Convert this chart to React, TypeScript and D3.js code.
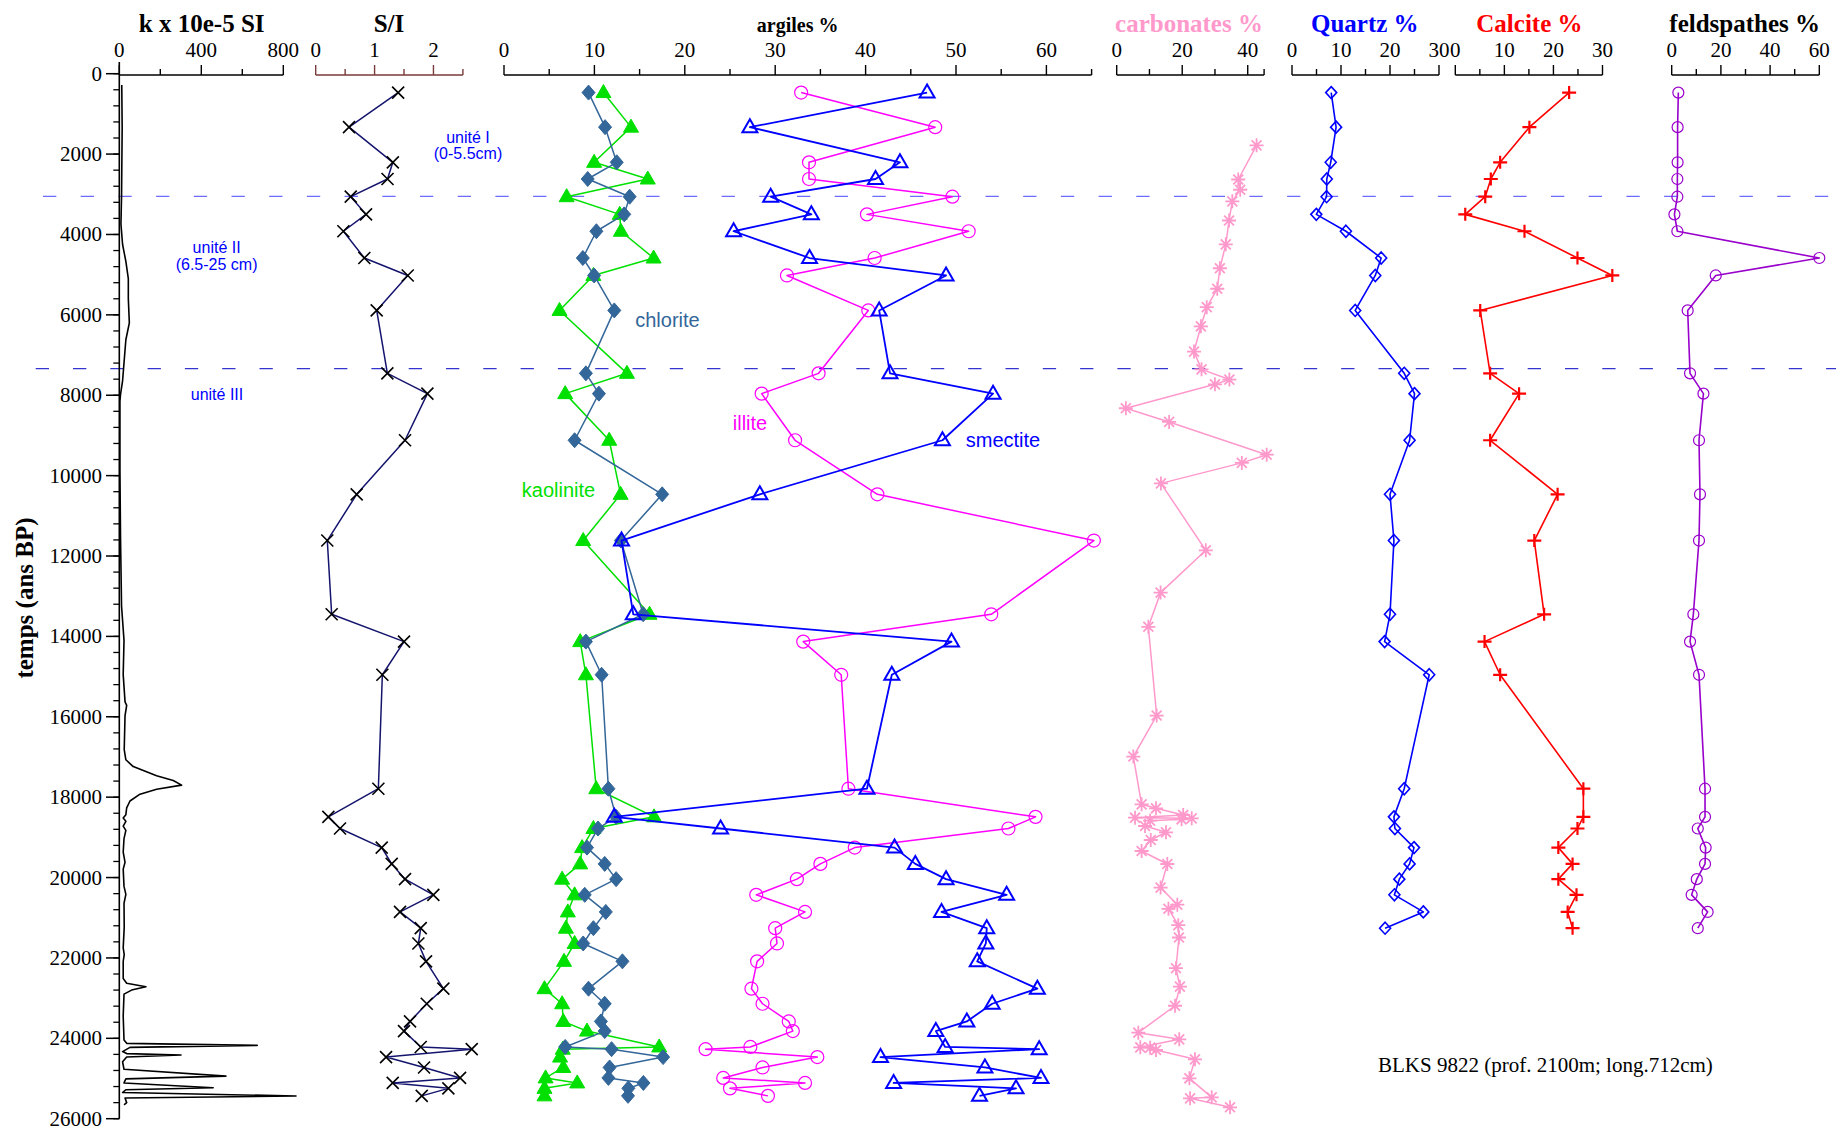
import React from 'react';
import * as d3 from 'd3';

// ---------- DATA ----------
// sample ages (ans BP) shared by clay minerals, S/I, quartz, calcite, feldspaths
const sampleTime = [470, 1330, 2205, 2620, 3060, 3500, 3920, 4586, 5020, 5890, 7455, 7960, 9120, 10465, 11615, 13450, 14130, 14955, 17790, 18490, 18780, 19255, 19660, 20040, 20430, 20855, 21260, 21640, 22085, 22765, 23140, 23580, 23820, 24215, 24270, 24467, 24725, 24985, 25110, 25245, 25432];

const chlorite = [9.35, 11.18, 12.47, 9.26, 13.9, 13.3, 10.22, 8.72, 9.97, 12.2, 9.06, 10.5, 7.81, 17.5, 12.93, 15.4, 9.06, 10.8, 11.55, 12.4, 10.4, 9.18, 11.14, 12.4, 8.93, 11.26, 9.89, 8.76, 13.1, 9.35, 11.14, 10.72, 11.14, 6.77, 11.9, 17.6, 11.68, 11.55, 15.42, 13.76, 13.72];
const kaolinite = [11.0, 14.05, 9.97, 15.9, 6.93, 12.8, 12.93, 16.55, 9.89, 6.14, 13.6, 6.77, 11.64, 12.9, 8.76, 16.1, 8.43, 9.06, 10.2, 16.6, 9.89, 8.64, 8.43, 6.43, 7.81, 7.06, 6.85, 7.81, 6.64, 4.48, 6.43, 6.56, 9.18, 17.17, 6.5, 6.2, 6.56, 4.6, 8.1, 4.48, 4.48];
const illite = [32.87, 47.7, 33.74, 33.74, 49.6, 40.15, 51.4, 41.0, 31.3, 40.3, 34.8, 28.5, 32.2, 41.3, 65.25, 53.9, 33.1, 37.3, 38.1, 58.8, 55.8, 38.8, 35.0, 32.4, 27.9, 33.3, 30.0, 30.2, 28.0, 27.37, 28.6, 31.5, 31.95, 27.25, 22.3, 34.66, 28.6, 24.25, 33.3, 25.0, 29.2];
const smectite = [46.8, 27.2, 43.8, 41.1, 29.5, 34.0, 25.4, 33.8, 48.9, 41.5, 42.7, 54.1, 48.5, 28.3, 13.0, 14.3, 49.5, 42.9, 40.15, 12.2, 23.96, 43.2, 45.5, 48.9, 55.6, 48.4, 53.4, 53.3, 52.35, 59.0, 54.0, 51.2, 47.77, 48.8, 59.2, 41.65, 53.2, 59.4, 43.1, 56.64, 52.6];
const smectiteIllite = [1.40, 0.566, 1.31, 1.22, 0.595, 0.855, 0.47, 0.826, 1.563, 1.036, 1.217, 1.897, 1.517, 0.696, 0.197, 0.271, 1.50, 1.132, 1.064, 0.215, 0.413, 1.121, 1.291, 1.517, 1.998, 1.432, 1.784, 1.744, 1.874, 2.168, 1.886, 1.602, 1.50, 1.784, 2.65, 1.195, 1.84, 2.452, 1.308, 2.253, 1.801];

// first 27 samples only
const quartz = [8.0, 9.0, 7.9, 7.1, 7.06, 4.96, 11.0, 18.2, 17.0, 12.9, 22.9, 25.0, 24.0, 20.0, 20.8, 20.0, 18.9, 28.0, 22.9, 20.8, 21.0, 24.9, 24.0, 21.9, 20.9, 26.8, 19.0];
const calcite = [23.2, 15.1, 9.14, 7.24, 6.1, 2.03, 14.1, 24.9, 32.0, 5.08, 7.1, 13.0, 7.1, 20.85, 16.1, 18.1, 5.96, 9.14, 26.1, 26.1, 24.9, 21.0, 23.9, 21.0, 24.7, 22.9, 23.9];
const feldspaths = [2.7, 2.4, 2.4, 2.3, 2.3, 1.1, 2.3, 60.0, 17.9, 6.5, 7.45, 12.9, 11.1, 11.5, 11.1, 8.8, 7.45, 11.1, 13.55, 13.55, 10.6, 13.8, 13.55, 10.2, 8.1, 14.6, 10.6];

const carbTime = [1783, 2632, 2887, 3176, 3652, 4246, 4841, 5351, 5809, 6285, 6914, 7356, 7610, 7729, 8324, 8664, 9479, 9683, 10193, 11858, 12911, 13761, 15969, 16989, 18178, 18277, 18444, 18511, 18527, 18551, 18585, 18717, 18874, 19066, 19339, 19663, 20250, 20676, 20777, 21186, 21492, 22256, 22714, 23190, 23860, 24025, 24224, 24233, 24291, 24523, 24995, 25468, 25493, 25716];
const carbonates = [42.7, 37.1, 37.7, 35.3, 34.3, 33.3, 31.5, 30.7, 27.5, 25.7, 23.6, 25.9, 34.4, 30.0, 2.8, 16.0, 45.8, 38.2, 13.5, 27.2, 13.4, 9.66, 12.2, 5.08, 7.6, 12.0, 20.3, 5.6, 22.9, 19.8, 10.2, 8.65, 15.05, 10.4, 7.6, 15.45, 13.4, 18.5, 15.8, 18.8, 19.0, 18.1, 19.3, 17.8, 6.6, 19.1, 7.2, 10.2, 12.0, 23.9, 22.2, 29.0, 22.4, 34.6];

const kTime = [280, 1350, 3050, 3740, 4250, 4670, 5100, 5600, 6200, 6620, 7130, 7640, 7980, 8150, 9850, 11550, 13250, 14100, 14950, 15630, 15715, 15970, 16820, 17070, 17240, 17465, 17585, 17700, 17805, 17925, 18095, 18265, 18435, 18520, 18600, 18720, 18825, 19030, 19370, 19620, 19790, 20220, 20420, 20640, 21240, 21750, 21915, 22085, 22510, 22630, 22715, 22800, 22900, 23445, 24040, 24125, 24175, 24225, 24330, 24380, 24415, 24465, 24585, 24770, 24940, 25010, 25110, 25230, 25280, 25350, 25435, 25485, 25600, 25655];
const kValue = [12, 14, 11, 8, 16, 32, 44, 44, 49, 32, 24, 16, 6, 3, 3, 6, 11, 23, 19, 28, 36, 28, 24, 32, 68, 182, 263, 304, 182, 101, 52, 36, 32, 19, 32, 19, 32, 23, 19, 28, 19, 23, 32, 23, 24, 19, 24, 19, 19, 36, 130, 60, 23, 19, 23, 36, 673, 52, 16, 36, 301, 36, 16, 23, 520, 32, 23, 458, 32, 16, 862, 28, 36, 23];

const yTicks = d3.range(0, 26001, 2000);
const yMinor = d3.range(0, 26001, 400);
const kTicks = [0, 400, 800];
const kMinor = [200, 600];
const siTicks = [0, 1, 2];
const siMinor = [0.5, 1.5, 2.5];
const clayTicks = [0, 10, 20, 30, 40, 50, 60];
const clayMinor = [5, 15, 25, 35, 45, 55, 65];
const carbTicks = [0, 20, 40];
const carbMinor = [10, 30, 45];
const pctTicks30 = [0, 10, 20, 30];
const pctMinor30 = [5, 15, 25];
const feldTicks = [0, 20, 40, 60];
const feldMinor = [10, 30, 50];
const unitBoundaries = [3050, 7340];

// ---------- LAYOUT ----------
const W = 1836;
const H = 1131;
const AXIS_Y = 75;
const SERIF = '"Liberation Serif", "Times New Roman", serif';
const SANS = '"Liberation Sans", Arial, sans-serif';

const y = d3.scaleLinear().domain([0, 26000]).range([73.7, 1118.7]);
const xK = d3.scaleLinear().domain([0, 800]).range([119.3, 283.3]);
const xSI = d3.scaleLinear().domain([0, 2.5]).range([315.7, 462.9]);
const xClay = d3.scaleLinear().domain([0, 65]).range([504, 1091.6]);
const xCarb = d3.scaleLinear().domain([0, 45]).range([1116.7, 1264.1]);
const xQz = d3.scaleLinear().domain([0, 30]).range([1292, 1439]);
const xCal = d3.scaleLinear().domain([0, 30]).range([1455.3, 1602.5]);
const xFeld = d3.scaleLinear().domain([0, 60]).range([1671.7, 1819.3]);

type Pt = [number, number];
const pts = (t: number[], v: number[]): Pt[] => v.map((d, i) => [t[i], d]);

function linePath(data: Pt[], xs: d3.ScaleLinear<number, number>) {
  return d3.line<Pt>().x(d => xs(d[1])).y(d => y(d[0]))(data) || '';
}

function marker(type: string, cx: number, cy: number) {
  switch (type) {
    case 'diamond': return `M${cx},${cy - 7.5}L${cx + 6.5},${cy}L${cx},${cy + 7.5}L${cx - 6.5},${cy}Z`;
    case 'sdiamond': return `M${cx},${cy - 6}L${cx + 5.5},${cy}L${cx},${cy + 6}L${cx - 5.5},${cy}Z`;
    case 'triangle': return `M${cx},${cy - 8}L${cx + 7.5},${cy + 5}L${cx - 7.5},${cy + 5}Z`;
    case 'x': return `M${cx - 6},${cy - 6}L${cx + 6},${cy + 6}M${cx - 6},${cy + 6}L${cx + 6},${cy - 6}`;
    case 'plus': return `M${cx - 7},${cy}L${cx + 7},${cy}M${cx},${cy - 6.5}L${cx},${cy + 6.5}`;
    case 'star': {
      const r = 7, r2 = r * 0.7071;
      return `M${cx - r},${cy}L${cx + r},${cy}M${cx},${cy - r}L${cx},${cy + r}M${cx - r2},${cy - r2}L${cx + r2},${cy + r2}M${cx - r2},${cy + r2}L${cx + r2},${cy - r2}`;
    }
    default: return '';
  }
}

interface SeriesProps {
  data: Pt[];
  xs: d3.ScaleLinear<number, number>;
  color: string;
  lineColor?: string;
  lineWidth?: number;
  type: string;
  fill?: boolean;
  markerColor?: string;
  markerWidth?: number;
  r?: number;
}

function Series({ data, xs, color, lineColor, lineWidth = 1.5, type, fill, markerColor, markerWidth = 1.5, r = 6 }: SeriesProps) {
  const mc = markerColor || color;
  return (
    <g>
      <path d={linePath(data, xs)} fill="none" stroke={lineColor || color} strokeWidth={lineWidth} strokeLinejoin="round" />
      {data.map((d, i) => {
        const cx = xs(d[1]);
        const cy = y(d[0]);
        if (type === 'circle') {
          return <circle key={i} cx={cx} cy={cy} r={r} fill="none" stroke={mc} strokeWidth={markerWidth} />;
        }
        return (
          <path key={i} d={marker(type, cx, cy)} fill={fill ? mc : 'none'} stroke={mc} strokeWidth={markerWidth} strokeLinejoin="miter" />
        );
      })}
    </g>
  );
}

interface TopAxisProps {
  xs: d3.ScaleLinear<number, number>;
  ticks: number[];
  minor: number[];
  color?: string;
  title: string;
  titleColor?: string;
  titleX: number;
  titleSize?: number;
}

function TopAxis({ xs, ticks, minor, color = '#000', title, titleColor = '#000', titleX, titleSize = 25 }: TopAxisProps) {
  const [r0, r1] = xs.range();
  return (
    <g>
      <line x1={r0} x2={r1} y1={AXIS_Y} y2={AXIS_Y} stroke={color} strokeWidth={1.6} />
      {ticks.map(t => (
        <line key={'M' + t} x1={xs(t)} x2={xs(t)} y1={AXIS_Y} y2={AXIS_Y - 10} stroke={color} strokeWidth={1.4} />
      ))}
      {minor.map(t => (
        <line key={'m' + t} x1={xs(t)} x2={xs(t)} y1={AXIS_Y} y2={AXIS_Y - 6} stroke={color} strokeWidth={1.4} />
      ))}
      {ticks.map(t => (
        <text key={'l' + t} x={xs(t)} y={57} textAnchor="middle" fontFamily={SERIF} fontSize={21} fill="#000">{t}</text>
      ))}
      <text x={titleX} y={32} textAnchor="middle" fontFamily={SERIF} fontWeight="bold" fontSize={titleSize} fill={titleColor}>{title}</text>
    </g>
  );
}

export default function App() {
  const clayTimes = sampleTime;
  const n27 = sampleTime.slice(0, quartz.length);
  return (
    <svg width={W} height={H} viewBox={`0 0 ${W} ${H}`} style={{ position: 'absolute', left: 0, top: 0, background: '#fff' }}>
      <rect x={0} y={0} width={W} height={H} fill="#fff" />

      {/* unit boundaries */}
      <line x1={43} x2={W} y1={y(unitBoundaries[0])} y2={y(unitBoundaries[0])} stroke="#6b6bff" strokeWidth={1.3} strokeDasharray="13.3 24.4" />
      <line x1={35.7} x2={W} y1={y(unitBoundaries[1])} y2={y(unitBoundaries[1])} stroke="#3434d0" strokeWidth={1.3} strokeDasharray="13.3 24" />

      {/* Y axis */}
      <line x1={119.3} x2={119.3} y1={62} y2={y(26000)} stroke="#000" strokeWidth={1.6} />
      {yMinor.map(t => (
        <line key={'ym' + t} x1={113.3} x2={119.3} y1={y(t)} y2={y(t)} stroke="#000" strokeWidth={1.3} />
      ))}
      {yTicks.map(t => (
        <g key={'yt' + t}>
          <line x1={106} x2={119.3} y1={y(t)} y2={y(t)} stroke="#000" strokeWidth={1.5} />
          <text x={102} y={y(t) + 7} textAnchor="end" fontFamily={SERIF} fontSize={21} fill="#000">{t}</text>
        </g>
      ))}
      <text transform={`translate(33,598) rotate(-90)`} textAnchor="middle" fontFamily={SERIF} fontWeight="bold" fontSize={25} fill="#000">temps (ans BP)</text>

      {/* top axes */}
      <TopAxis xs={xK} ticks={kTicks} minor={kMinor} title="k x 10e-5 SI" titleX={201.7} />
      <TopAxis xs={xSI} ticks={siTicks} minor={siMinor} color="#7a3a3a" title="S/I" titleX={389} />
      <TopAxis xs={xClay} ticks={clayTicks} minor={clayMinor} title="argiles %" titleX={797.6} titleSize={20} />
      <TopAxis xs={xCarb} ticks={carbTicks} minor={carbMinor} title="carbonates %" titleColor="#ff99cc" titleX={1189} />
      <TopAxis xs={xQz} ticks={pctTicks30} minor={pctMinor30} title="Quartz %" titleColor="#0000ff" titleX={1364.8} />
      <TopAxis xs={xCal} ticks={pctTicks30} minor={pctMinor30} title="Calcite %" titleColor="#ff0000" titleX={1529.4} />
      <TopAxis xs={xFeld} ticks={feldTicks} minor={feldMinor} title="feldspathes %" titleX={1744.7} />

      {/* susceptibility curve */}
      <path d={linePath(pts(kTime, kValue), xK)} fill="none" stroke="#000" strokeWidth={1.6} strokeLinejoin="round" />

      {/* S/I */}
      <Series data={pts(clayTimes, smectiteIllite)} xs={xSI} color="#000" lineColor="#14146e" type="x" markerWidth={1.6} />

      {/* clay minerals */}
      <Series data={pts(clayTimes, kaolinite)} xs={xClay} color="#00e000" type="triangle" fill markerWidth={1} />
      <Series data={pts(clayTimes, chlorite)} xs={xClay} color="#336699" type="diamond" fill markerWidth={1} />
      <Series data={pts(clayTimes, illite)} xs={xClay} color="#ff00ff" type="circle" r={6.5} markerWidth={1.2} />
      <Series data={pts(clayTimes, smectite)} xs={xClay} color="#0000ff" type="triangle" lineWidth={1.8} markerWidth={2} />

      <text x={667.5} y={327} textAnchor="middle" fontFamily={SANS} fontSize={20} fill="#336699">chlorite</text>
      <text x={750} y={429.6} textAnchor="middle" fontFamily={SANS} fontSize={20} fill="#ff00ff">illite</text>
      <text x={1003} y={447} textAnchor="middle" fontFamily={SANS} fontSize={20} fill="#0000ff">smectite</text>
      <text x={558.5} y={497} textAnchor="middle" fontFamily={SANS} fontSize={20} fill="#00e000">kaolinite</text>

      {/* carbonates */}
      <Series data={pts(carbTime, carbonates)} xs={xCarb} color="#ff99cc" type="star" lineWidth={1.5} markerWidth={1.8} />

      {/* quartz, calcite, feldspaths */}
      <Series data={pts(n27, quartz)} xs={xQz} color="#0000ff" type="sdiamond" lineWidth={1.6} markerWidth={1.6} />
      <Series data={pts(n27, calcite)} xs={xCal} color="#ff0000" type="plus" lineWidth={1.6} markerWidth={2.2} />
      <Series data={pts(n27, feldspaths)} xs={xFeld} color="#9900cc" type="circle" r={5.5} lineWidth={1.6} markerWidth={1.2} />

      {/* unit labels */}
      <g fontFamily={SANS} fontSize={16} fill="#0000ff" textAnchor="middle">
        <text x={468} y={142.5}>unité I</text>
        <text x={468} y={159}>(0-5.5cm)</text>
        <text x={216.6} y={252.5}>unité II</text>
        <text x={216.6} y={270}>(6.5-25 cm)</text>
        <text x={217} y={400}>unité III</text>
      </g>

      <text x={1378} y={1072} fontFamily={SERIF} fontSize={21} fill="#000">BLKS 9822 (prof. 2100m; long.712cm)</text>
    </svg>
  );
}
